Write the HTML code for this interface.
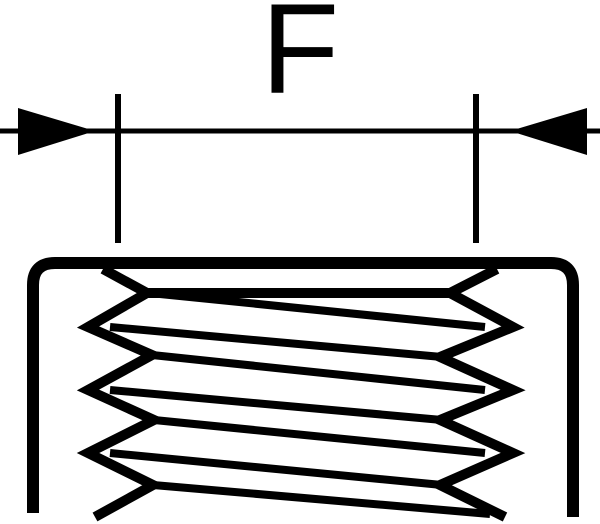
<!DOCTYPE html>
<html><head><style>html,body{margin:0;padding:0;background:#fff;}svg{display:block}</style></head>
<body>
<svg width="600" height="524" viewBox="0 0 600 524" xmlns="http://www.w3.org/2000/svg">
<text x="261" y="93" font-family="Liberation Sans, sans-serif" font-size="128" fill="#000">F</text>
<line x1="0" y1="131" x2="600" y2="131" stroke="#000" stroke-width="5"/>
<line x1="118" y1="94" x2="118" y2="243" stroke="#000" stroke-width="6"/>
<line x1="476" y1="94" x2="476" y2="243" stroke="#000" stroke-width="6"/>
<polygon points="18,108 95,131 18,155" fill="#000"/>
<polygon points="587,108 510,131 587,155" fill="#000"/>
<path d="M33,513 V285 Q33,263 55,263 H551 Q573,263 573,285 V517" fill="none" stroke="#000" stroke-width="12"/>
<g fill="none" stroke="#000" stroke-width="10" stroke-linejoin="miter">
<polyline points="103,269 147,293 88,327 152,355 88,390 154,420 88,453 153,485 95,517"/>
<polyline points="497,269 450,293 513,327 440,357 513,390 440,420 513,453 440,485 505,517"/>
<line x1="147" y1="293" x2="450" y2="293"/>
<line x1="150" y1="293" x2="485" y2="327" stroke-width="8"/>
<line x1="110" y1="327" x2="442" y2="357" stroke-width="8"/>
<line x1="152" y1="355" x2="485" y2="390" stroke-width="8"/>
<line x1="110" y1="390" x2="442" y2="420" stroke-width="8"/>
<line x1="154" y1="420" x2="485" y2="453" stroke-width="8"/>
<line x1="110" y1="453" x2="442" y2="485" stroke-width="8"/>
<line x1="153" y1="485" x2="490" y2="514" stroke-width="8"/>
</g>
</svg>
</body></html>
